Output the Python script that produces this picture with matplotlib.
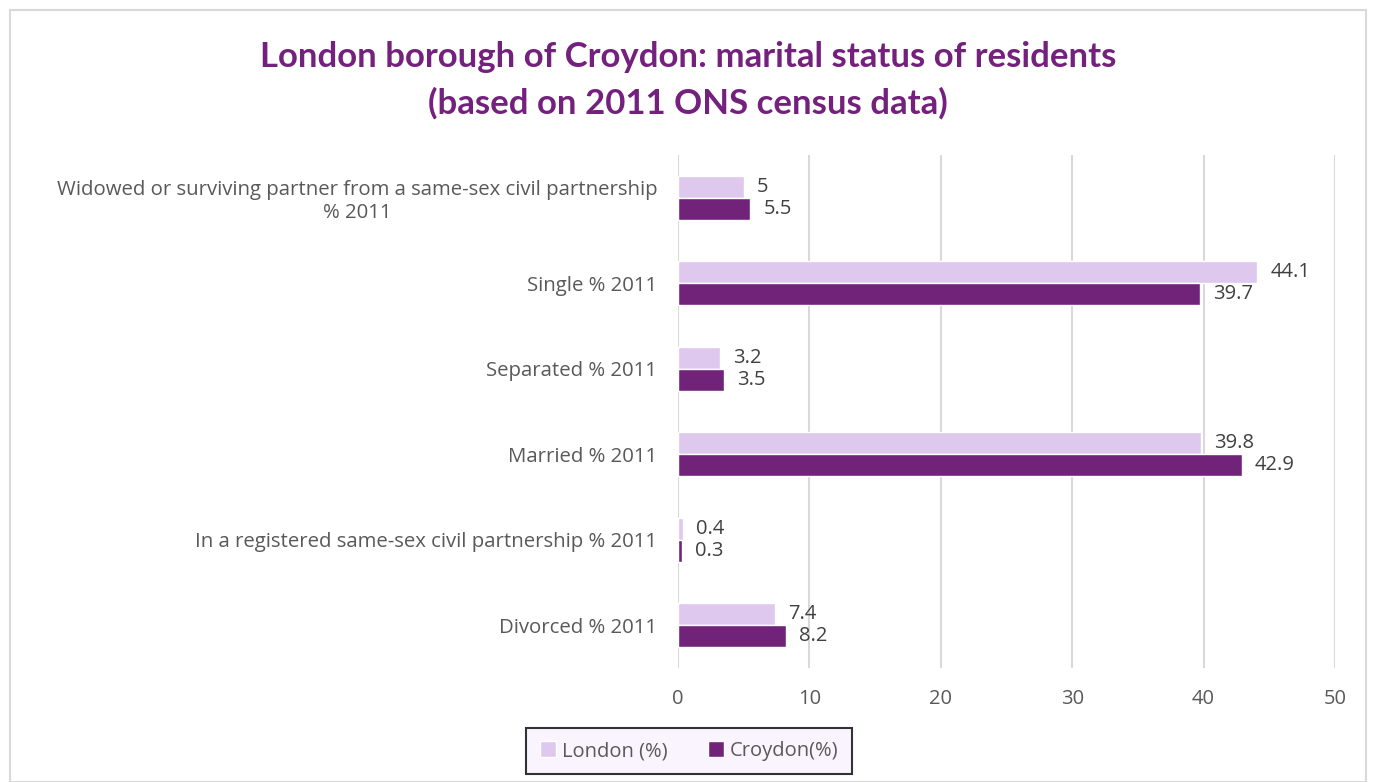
import numpy as np
import matplotlib.pyplot as plt
from matplotlib.patches import Rectangle

categories = ['Divorced % 2011',
              'In a registered same-sex civil partnership % 2011',
              'Married % 2011',
              'Separated % 2011',
              'Single % 2011',
              'Widowed or surviving partner from a same-sex civil partnership\n% 2011']
london = [7.4, 0.4, 39.8, 3.2, 44.1, 5]
croydon = [8.2, 0.3, 42.9, 3.5, 39.7, 5.5]
xticks = [0, 10, 20, 30, 40, 50]

plt.rcParams['font.family'] = ['Open Sans', 'DejaVu Sans']

fig = plt.figure(figsize=(13.76, 7.82), dpi=100)
fig.patches.append(Rectangle((10 / 1376, 0), 1356 / 1376, 1 - 10 / 782, transform=fig.transFigure,
                             fill=False, edgecolor='#d9d9d9', linewidth=1.5))
ax = fig.add_axes([678 / 1376, 1 - 668 / 782, (1335 - 678) / 1376, (668 - 155) / 782])

y = np.arange(len(categories))
h = 0.26
lc, cc = '#dfc8ee', '#71237a'
b1 = ax.barh(y + h / 2, london, h, color=lc, edgecolor='white', linewidth=1, label='London (%)', zorder=3)
b2 = ax.barh(y - h / 2, croydon, h, color=cc, edgecolor='white', linewidth=1, label='Croydon(%)', zorder=3)
for bars in (b1, b2):
    for bar in bars:
        v = bar.get_width()
        ax.text(v + 1.0, bar.get_y() + bar.get_height() / 2, f'{v:g}', va='center', ha='left',
                fontsize=14.5, color='#404040')

ax.set_xlim(0, 50)
ax.set_ylim(-0.5, len(categories) - 0.5)
ax.set_xticks(xticks)
ax.set_yticks(y)
ax.set_yticklabels(categories, ha='right', multialignment='center')
ax.tick_params(axis='y', pad=15, length=0, labelsize=14.7, labelcolor='#595959')
ax.tick_params(axis='x', length=0, labelsize=14.5, labelcolor='#595959', pad=15)
for s in ax.spines.values():
    s.set_visible(False)
ax.grid(axis='x', color='#d9d9d9', linewidth=1.5, zorder=0)

fig.text(0.5, 1 - 57 / 782, 'London borough of Croydon: marital status of residents',
         ha='center', va='center', fontsize=25, fontweight='bold', color='#74207d',
         family=['Lato', 'DejaVu Sans'])
fig.text(0.5, 1 - 103 / 782, '(based on 2011 ONS census data)',
         ha='center', va='center', fontsize=25, fontweight='bold', color='#74207d',
         family=['Lato', 'DejaVu Sans'])

leg = fig.legend(handles=[b1, b2], loc='center', bbox_to_anchor=(689 / 1376, 1 - 751 / 782), ncol=2,
                 frameon=True, fontsize=14.5, handlelength=0.8, handleheight=0.8, columnspacing=2.0,
                 handletextpad=0.3, borderpad=0.65, borderaxespad=0, fancybox=False)
leg.get_frame().set_edgecolor('black')
leg.get_frame().set_facecolor('#f8f2fd')
leg.get_frame().set_linewidth(1.5)
for t in leg.get_texts():
    t.set_color('#595959')

fig.savefig('out.png', dpi=100)
